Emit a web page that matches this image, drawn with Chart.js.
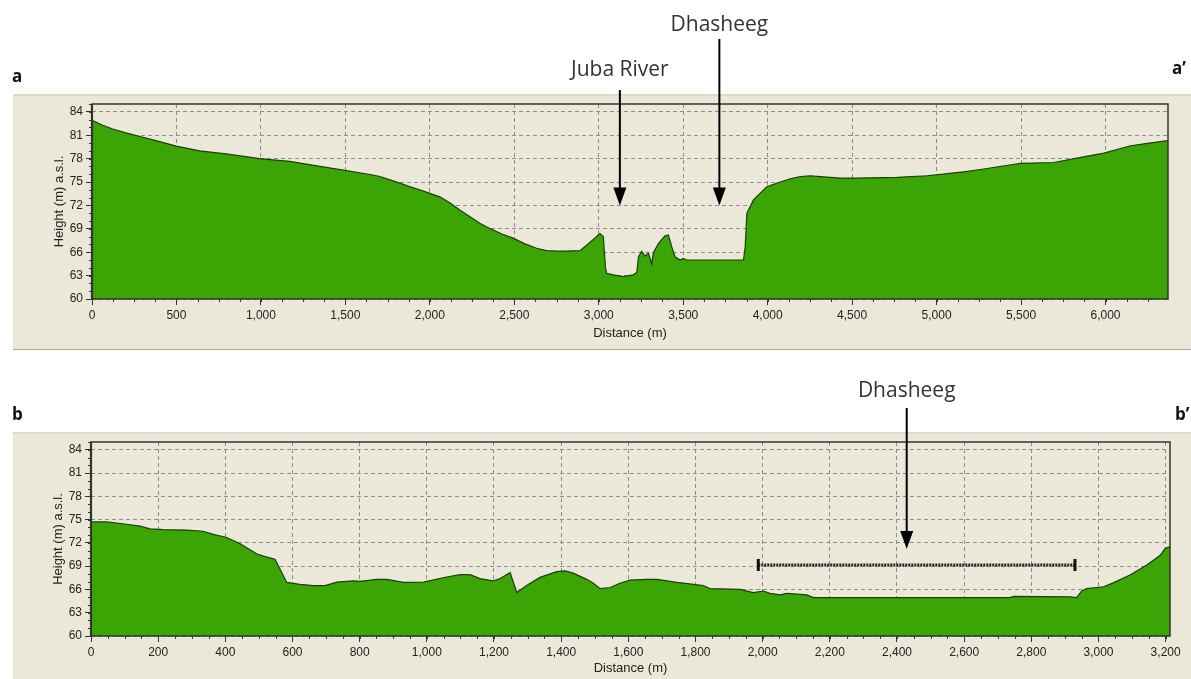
<!DOCTYPE html>
<html>
<head>
<meta charset="utf-8">
<script src="https://cdn.jsdelivr.net/npm/chart.js@4.4.1/dist/chart.umd.min.js"></script>
<style>
  html, body { margin: 0; padding: 0; background: #fff; }
  #wrap { position: relative; width: 1191px; height: 679px; overflow: hidden; }
  canvas { position: absolute; left: 0; }
  #profile-a { top: 0; }
  #profile-b { top: 352px; }
</style>
</head>
<body>
<div id="wrap">
  <canvas id="profile-a" width="1191" height="352"></canvas>
  <canvas id="profile-b" width="1191" height="327"></canvas>
</div>
<script>
// Profile a–a' (distance in m, height in m a.s.l.)
const distA = [0, 60, 122, 201, 290, 379, 498, 637, 794, 992, 1170, 1377, 1506, 1663, 1703, 1760, 1822, 1880, 1940,
  2000, 2059, 2120, 2177, 2240, 2296, 2340, 2375, 2430, 2493, 2560, 2632, 2691, 2750, 2810, 2889, 2928, 2968, 3007,
  3027, 3040, 3047, 3086, 3145, 3205, 3225, 3235, 3254, 3274, 3294, 3314, 3323, 3353, 3392, 3412, 3432, 3452, 3481,
  3501, 3521, 3857, 3867, 3877, 3916, 3995, 4074, 4134, 4193, 4252, 4311, 4430, 4528, 4766, 4944, 5160, 5260, 5497,
  5694, 5854, 5991, 6149, 6248, 6370];
const heightA = [82.9, 82.3, 81.8, 81.3, 80.8, 80.3, 79.6, 79.0, 78.6, 78.0, 77.65, 76.9, 76.45, 75.9, 75.7, 75.3, 74.85, 74.4, 74.0,
  73.55, 73.1, 72.3, 71.4, 70.5, 69.7, 69.2, 68.85, 68.3, 67.8, 67.1, 66.5, 66.2, 66.15, 66.15, 66.2, 66.9, 67.65, 68.4,
  68.0, 64.0, 63.3, 63.1, 62.86, 63.1, 63.4, 65.4, 66.1, 65.5, 65.9, 64.5, 65.9, 67.1, 68.1, 68.2, 66.7, 65.4, 65.0,
  65.2, 65.0, 65.0, 66.7, 71.0, 72.7, 74.4, 75.0, 75.4, 75.7, 75.8, 75.7, 75.5, 75.5, 75.6, 75.8, 76.3, 76.6, 77.4,
  77.5, 78.15, 78.7, 79.65, 79.95, 80.3];

// Profile b–b'
const distB = [0, 47, 106, 146, 176, 215, 285, 334, 364, 404, 444, 493, 513, 548, 583, 622, 662, 697, 732, 781, 801,
  851, 881, 930, 990, 1059, 1099, 1129, 1158, 1198, 1218, 1248, 1268, 1297, 1337, 1387, 1412, 1436, 1476, 1496, 1516,
  1546, 1575, 1605, 1655, 1685, 1744, 1794, 1823, 1843, 1933, 1972, 2002, 2022, 2052, 2072, 2131, 2151, 2737, 2747,
  2915, 2935, 2950, 2965, 3015, 3044, 3094, 3144, 3184, 3199, 3213];
const heightB = [74.7, 74.7, 74.4, 74.15, 73.8, 73.7, 73.65, 73.5, 73.1, 72.7, 71.9, 70.6, 70.3, 69.9, 66.9, 66.65, 66.5, 66.5, 66.95, 67.1, 67.05,
  67.3, 67.3, 66.9, 66.95, 67.6, 67.9, 67.9, 67.4, 67.1, 67.4, 68.15, 65.6, 66.5, 67.55, 68.3, 68.4, 68.1, 67.3, 66.8, 66.1,
  66.25, 66.8, 67.2, 67.3, 67.3, 66.9, 66.65, 66.5, 66.1, 66.0, 65.6, 65.8, 65.5, 65.3, 65.5, 65.3, 64.95, 64.95, 65.1,
  65.05, 64.95, 65.8, 66.1, 66.35, 66.85, 67.85, 69.15, 70.4, 71.3, 71.5];

// Axes
const heightTicks = [60, 63, 66, 69, 72, 75, 78, 81, 84];
const distTicksA = [0, 500, 1000, 1500, 2000, 2500, 3000, 3500, 4000, 4500, 5000, 5500, 6000];
const distTicksB = [0, 200, 400, 600, 800, 1000, 1200, 1400, 1600, 1800, 2000, 2200, 2400, 2600, 2800, 3000, 3200];
const distMaxA = 6370;
const distMaxB = 3213;
const heightMin = 60;
const heightMax = 85;

// Annotations (distance m, arrow tip height m)
const jubaRiverA = { label: "Juba River", dist: 3125, tip: 72 };
const dhasheegA = { label: "Dhasheeg", dist: 3714, tip: 72 };
const dhasheegB = { label: "Dhasheeg", dist: 2429, tip: 71.2 };
const dhasheegSpanB = { from: 1987, to: 2930, level: 69.15 };

const PANEL = "#ebe8da";
const GREEN = "#3aa504";
const INK = "#222";
const TICK_FONT = "'Liberation Sans', Arial, sans-serif";
const NOTE_FONT = "'Open Sans', 'Noto Sans', sans-serif";

Chart.defaults.font.family = TICK_FONT;
Chart.defaults.font.size = 12;
Chart.defaults.color = INK;

function drawArrow(ctx, x, y0, y1) {
  const head = 18, half = 6.5;
  ctx.strokeStyle = "#000";
  ctx.fillStyle = "#000";
  ctx.lineWidth = 2;
  ctx.beginPath();
  ctx.moveTo(x, y0);
  ctx.lineTo(x, y1 - head + 2);
  ctx.stroke();
  ctx.beginPath();
  ctx.moveTo(x - half, y1 - head);
  ctx.lineTo(x + half, y1 - head);
  ctx.lineTo(x, y1);
  ctx.closePath();
  ctx.fill();
}

// panel, frame, minor ticks and call-outs
const profileFrame = {
  id: "profileFrame",
  beforeDraw(chart, args, o) {
    const { ctx, width } = chart;
    ctx.save();
    ctx.fillStyle = PANEL;
    ctx.fillRect(o.panelX, o.panelY, width - o.panelX, o.panelBottom - o.panelY);
    ctx.fillStyle = "#dedac8";
    ctx.fillRect(o.panelX, o.panelY, width - o.panelX, 2);
    if (o.bottomLine) {
      ctx.fillStyle = "#aaa79b";
      ctx.fillRect(o.panelX, o.panelBottom - 1, width - o.panelX, 1);
    }
    ctx.restore();
  },
  afterDraw(chart, args, o) {
    const { ctx, chartArea: a } = chart;
    const xs = chart.scales.x, ys = chart.scales.y;
    ctx.save();
    // minor ticks
    ctx.strokeStyle = "#333";
    ctx.lineWidth = 1;
    ctx.beginPath();
    for (let v = 0; v <= xs.max; v += o.minorX) {
      const px = Math.round(xs.getPixelForValue(v)) + 0.5;
      ctx.moveTo(px, a.bottom);
      ctx.lineTo(px, a.bottom + 3);
    }
    for (let v = heightMin; v <= heightMax; v += 1) {
      const py = Math.round(ys.getPixelForValue(v)) + 0.5;
      ctx.moveTo(a.left - 3, py);
      ctx.lineTo(a.left, py);
    }
    ctx.stroke();
    // frame
    ctx.strokeStyle = "#333";
    ctx.lineWidth = 1.5;
    ctx.strokeRect(a.left, a.top, a.right - a.left, a.bottom - a.top);
    ctx.lineWidth = 2.2;
    ctx.beginPath();
    ctx.moveTo(a.left, a.top);
    ctx.lineTo(a.left, a.bottom);
    ctx.stroke();
    // call-outs
    ctx.font = "21px " + NOTE_FONT;
    ctx.textAlign = "center";
    ctx.textBaseline = "alphabetic";
    o.notes.forEach((n) => {
      const x = xs.getPixelForValue(n.ref.dist);
      ctx.fillStyle = "#333";
      ctx.fillText(n.ref.label, x, n.textY);
      drawArrow(ctx, x, n.lineY, ys.getPixelForValue(n.ref.tip));
    });
    ctx.font = "bold 17px " + NOTE_FONT;
    ctx.fillStyle = "#111";
    ctx.textAlign = "left";
    o.corners.forEach((c) => ctx.fillText(c.text, c.x, c.y));
    ctx.restore();
  },
};

function axes(maxDist, distTicks, xHeight) {
  return {
    x: {
      type: "linear",
      min: 0,
      max: maxDist,
      afterBuildTicks: (s) => { s.ticks = distTicks.map((v) => ({ value: v })); },
      afterFit: (s) => { s.height = xHeight; },
      ticks: {
        autoSkip: false,
        maxRotation: 0,
        padding: 3,
        color: INK,
        callback: (v) => Number(v).toLocaleString("en-US"),
      },
      grid: { color: "#8c8c8c", tickColor: "#333", tickLength: 6, lineWidth: 1 },
      border: { display: false, dash: [4, 3] },
      title: { display: true, text: "Distance (m)", color: INK, font: { size: 13 }, padding: 0 },
    },
    y: {
      min: heightMin,
      max: heightMax,
      afterBuildTicks: (s) => { s.ticks = heightTicks.map((v) => ({ value: v })); },
      afterFit: (s) => { s.width = 40; },
      ticks: { padding: 3, color: INK },
      grid: { color: "#8c8c8c", tickColor: "#333", tickLength: 6, lineWidth: 1 },
      border: { display: false, dash: [4, 3] },
      title: { display: true, text: "Height (m) a.s.l.", color: INK, font: { size: 13 }, padding: 0 },
    },
  };
}

function terrain(dist, height) {
  return {
    type: "line",
    data: dist.map((d, i) => ({ x: d, y: height[i] })),
    borderColor: "#1d3d0c",
    borderWidth: 1.2,
    backgroundColor: GREEN,
    fill: "start",
    pointRadius: 0,
    tension: 0,
    order: 1,
  };
}

new Chart(document.getElementById("profile-a"), {
  type: "line",
  data: { datasets: [terrain(distA, heightA)] },
  options: {
    responsive: false,
    animation: false,
    layout: { padding: { left: 52, right: 23, top: 104, bottom: 11 } },
    scales: axes(distMaxA, distTicksA, 42),
    plugins: {
      legend: { display: false },
      tooltip: { enabled: false },
      profileFrame: {
        panelX: 13, panelY: 94, panelBottom: 350, bottomLine: true, minorX: 125,
        notes: [
          { ref: jubaRiverA, textY: 76, lineY: 90 },
          { ref: dhasheegA, textY: 31, lineY: 39 },
        ],
        corners: [
          { text: "a", x: 12, y: 82 },
          { text: "a\u2019", x: 1172, y: 74 },
        ],
      },
    },
  },
  plugins: [profileFrame],
});

new Chart(document.getElementById("profile-b"), {
  type: "line",
  data: {
    datasets: [
      {
        type: "line",
        data: [
          { x: dhasheegSpanB.from, y: dhasheegSpanB.level },
          { x: dhasheegSpanB.to, y: dhasheegSpanB.level },
        ],
        borderColor: "#222",
        borderWidth: 3,
        borderDash: [2, 1],
        pointStyle: "line",
        rotation: 90,
        pointRadius: 6,
        pointBorderWidth: 3,
        pointBorderColor: "#111",
        fill: false,
        order: 0,
      },
      terrain(distB, heightB),
    ],
  },
  options: {
    responsive: false,
    animation: false,
    layout: { padding: { left: 51, right: 21, top: 90, bottom: 3 } },
    scales: axes(distMaxB, distTicksB, 40),
    plugins: {
      legend: { display: false },
      tooltip: { enabled: false },
      profileFrame: {
        panelX: 13, panelY: 80, panelBottom: 327, bottomLine: false, minorX: 50,
        notes: [{ ref: dhasheegB, textY: 45, lineY: 56 }],
        corners: [
          { text: "b", x: 12, y: 68 },
          { text: "b\u2019", x: 1175, y: 68 },
        ],
      },
    },
  },
  plugins: [profileFrame],
});
</script>
</body>
</html>
